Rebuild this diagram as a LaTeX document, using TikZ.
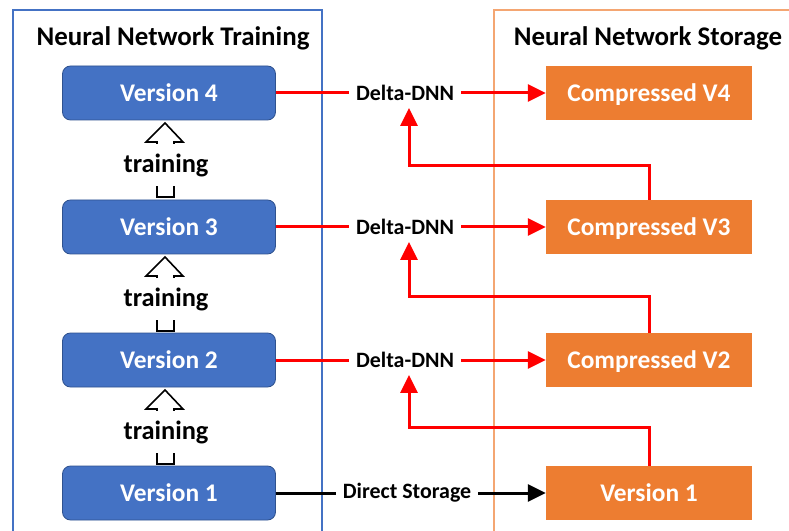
\documentclass[tikz,border=0pt]{standalone}
\usepackage{fontspec}
\setmainfont{Carlito}
\usetikzlibrary{arrows.meta,calc}
\definecolor{nnblue}{HTML}{4472C4}
\definecolor{nnblueedge}{HTML}{2F528F}
\definecolor{nnorange}{HTML}{ED7D31}
\definecolor{frameorange}{HTML}{F4A672}
\definecolor{arrred}{HTML}{FF0000}
\tikzset{
  trainbox/.style={draw=nnblueedge, line width=0.8bp, fill=nnblue, rounded corners=8bp,
    minimum width=213bp, minimum height=54bp, inner sep=0pt, text height=16.5bp, text depth=0pt,
    text=white, font=\fontsize{25.5}{28}\selectfont\bfseries},
  storebox/.style={fill=nnorange, minimum width=206bp, minimum height=54bp, inner sep=0pt,
    text height=16.5bp, text depth=0pt,
    text=white, font=\fontsize{25.5}{28}\selectfont\bfseries},
  title/.style={font=\fontsize{27}{30}\selectfont\bfseries, inner sep=0pt},
  conlabel/.style={font=\fontsize{22}{24}\selectfont\bfseries, inner sep=7bp},
  trainlabel/.style={font=\fontsize{26.5}{28}\selectfont\bfseries, fill=white, inner sep=1bp,
    minimum height=42bp},
  redline/.style={draw=arrred, line width=3bp},
  redarrow/.style={redline, -{Triangle[length=18bp,width=17bp]}},
  blackarrow/.style={draw=black, line width=3bp, -{Triangle[length=18bp,width=17bp]}},
  blockarrow/.style={draw=black, line width=1.6bp, fill=white, line join=miter},
}
\begin{document}
\begin{tikzpicture}[x=1bp,y=-1bp]
\useasboundingbox[fill=white] (0,0) rectangle (789,531);
% frames
\draw[nnblue, line width=1.6bp] (13,560) -- (13,10) -- (322,10) -- (322,560);
\draw[frameorange, line width=1.6bp] (494,560) -- (494,10) -- (820,10);
\node[title] (t1) at (173,38) {Neural Network Training};
\node[title] (t2) at (648,38) {Neural Network Storage};
% training versions
\node[trainbox] (v4) at (169,93) {Version 4};
\node[trainbox] (v3) at (169,227) {Version 3};
\node[trainbox] (v2) at (169,360) {Version 2};
\node[trainbox] (v1) at (169,493) {Version 1};
% storage
\node[storebox] (c4) at (649,93) {Compressed V4};
\node[storebox] (c3) at (649,227) {Compressed V3};
\node[storebox] (c2) at (649,360) {Compressed V2};
\node[storebox] (s1) at (649,493) {Version 1};
% connector labels
\node[conlabel] (d4) at (405,93) {Delta-DNN};
\node[conlabel] (d3) at (405,227) {Delta-DNN};
\node[conlabel] (d2) at (405,360) {Delta-DNN};
\node[conlabel] (ds) at (407,493) {Direct Storage};
% horizontal connectors
\draw[redline] (v4.east) -- (d4.west);
\draw[redarrow] (d4.east) -- (c4.west);
\draw[redline] (v3.east) -- (d3.west);
\draw[redarrow] (d3.east) -- (c3.west);
\draw[redline] (v2.east) -- (d2.west);
\draw[redarrow] (d2.east) -- (c2.west);
\draw[draw=black, line width=3bp] (v1.east) -- (ds.west);
\draw[blackarrow] (ds.east) -- (s1.west);
% feedback connectors
\coordinate (e4) at ($(d4.south)+(4,0)$);
\coordinate (e3) at ($(d3.south)+(4,0)$);
\coordinate (e2) at ($(d2.south)+(4,0)$);
\draw[redarrow] (c3.north) -- ++(0,-34) -| (e4);
\draw[redarrow] (c2.north) -- ++(0,-36) -| (e3);
\draw[redarrow] (s1.north) -- ++(0,-38) -| (e2);
% training block arrows
\foreach \yt/\nm in {123/a,257/b,390/c}{
  \draw[blockarrow] (165,\yt) -- (183,\yt+19) -- (174,\yt+19) -- (174,\yt+74) -- (157,\yt+74)
    -- (157,\yt+19) -- (146,\yt+19) -- cycle;
  \node[trainlabel] (tr\nm) at (166,\yt+42) {training};
}
\end{tikzpicture}
\end{document}
